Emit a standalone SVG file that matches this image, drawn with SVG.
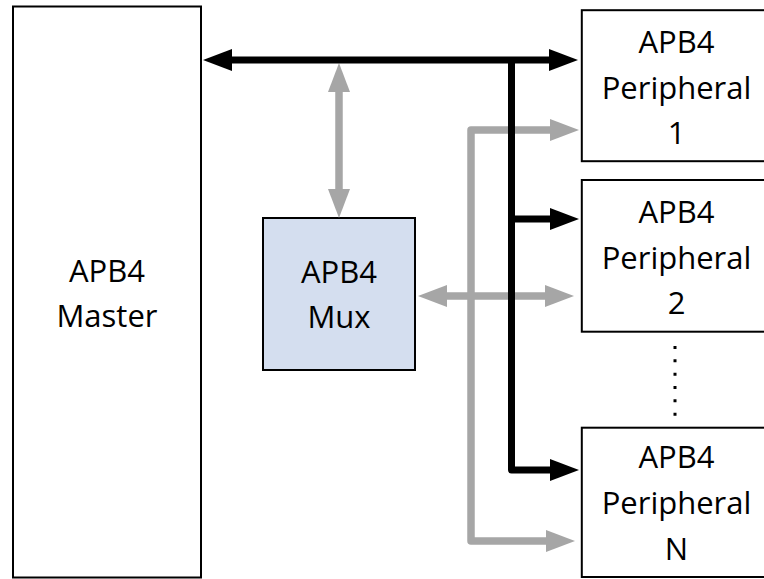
<svg xmlns="http://www.w3.org/2000/svg" width="764" height="579" viewBox="0 0 764 579">
<style>
.box{fill:#fff;stroke:#000;stroke-width:2}
.mux{fill:#d4deef;stroke:#000;stroke-width:2}
.t{font-family:"Open Sans","Noto Sans",sans-serif;font-size:31px;fill:#000;text-anchor:middle}
.blk{fill:none;stroke:#000;stroke-width:7;stroke-linejoin:round}
.gry{fill:none;stroke:#a6a6a6;stroke-width:7.5;stroke-linejoin:round}
</style>
<defs>
<marker id="ab" markerUnits="userSpaceOnUse" markerWidth="30" markerHeight="22" refX="0" refY="11" orient="auto-start-reverse" overflow="visible">
<path d="M0,0 L29,11 L0,22 Z" fill="#000"/>
</marker>
<marker id="ag" markerUnits="userSpaceOnUse" markerWidth="30" markerHeight="22" refX="0" refY="11" orient="auto-start-reverse" overflow="visible">
<path d="M0,0 L29,11 L0,22 Z" fill="#a6a6a6"/>
</marker>
</defs>
<g id="master"><rect class="box" x="13" y="6.5" width="188" height="571"/><text class="t" x="107" y="282">APB4</text><text class="t" x="107" y="327">Master</text></g>
<g id="mux"><rect class="mux" x="263" y="218" width="152" height="152"/><text class="t" x="339" y="283">APB4</text><text class="t" x="339" y="328">Mux</text></g>
<g id="p1"><rect class="box" x="581.8" y="10.2" width="200" height="151"/><text class="t" x="676.5" y="53">APB4</text><text class="t" x="676.5" y="99">Peripheral</text><text class="t" x="676.5" y="144">1</text></g>
<g id="p2"><rect class="box" x="581.8" y="180" width="200" height="151.7"/><text class="t" x="676.5" y="223">APB4</text><text class="t" x="676.5" y="269">Peripheral</text><text class="t" x="676.5" y="314">2</text></g>
<g id="pn"><rect class="box" x="581.8" y="427.7" width="200" height="149.3"/><text class="t" x="676.5" y="468">APB4</text><text class="t" x="676.5" y="514">Peripheral</text><text class="t" x="676.5" y="560">N</text></g>
<g id="connectors">
<path class="gry" d="M550,130 H471 V541 H546" marker-start="url(#ag)" marker-end="url(#ag)"/>
<path class="gry" d="M339,92 V189" marker-start="url(#ag)" marker-end="url(#ag)"/>
<path class="gry" d="M447,296 H545" marker-start="url(#ag)" marker-end="url(#ag)"/>
<path class="blk" d="M232,60 H549" marker-start="url(#ab)" marker-end="url(#ab)"/>
<path class="blk" d="M511.5,60 V470 H550" marker-end="url(#ab)"/>
<path class="blk" d="M511.5,219 H550" marker-end="url(#ab)"/>
<line x1="675" y1="346" x2="675" y2="416" stroke="#000" stroke-width="3" stroke-dasharray="3 10.33"/>
</g>
</svg>
